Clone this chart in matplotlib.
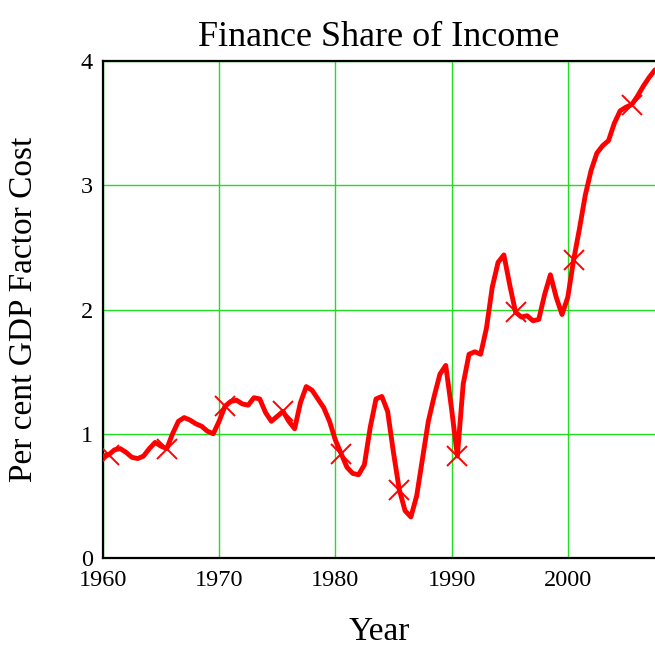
import matplotlib.pyplot as plt

# half-year readings of the curve
years = [1960.0, 1960.5, 1961.0, 1961.5, 1962.0, 1962.5, 1963.0, 1963.5,
         1964.0, 1964.5, 1965.0, 1965.5, 1966.0, 1966.5, 1967.0, 1967.5,
         1968.0, 1968.5, 1969.0, 1969.5, 1970.0, 1970.5, 1971.0, 1971.5,
         1972.0, 1972.5, 1973.0, 1973.5, 1974.0, 1974.5, 1975.0, 1975.5,
         1976.0, 1976.5, 1977.0, 1977.5, 1978.0, 1978.5, 1979.0, 1979.5,
         1980.0, 1980.5, 1981.0, 1981.5, 1982.0, 1982.5, 1983.0, 1983.5,
         1984.0, 1984.5, 1985.0, 1985.5, 1986.0, 1986.5, 1987.0, 1987.5,
         1988.0, 1988.5, 1989.0, 1989.5, 1990.0, 1990.5, 1991.0, 1991.5,
         1992.0, 1992.5, 1993.0, 1993.5, 1994.0, 1994.5, 1995.0, 1995.5,
         1996.0, 1996.5, 1997.0, 1997.5, 1998.0, 1998.5, 1999.0, 1999.5,
         2000.0, 2000.5, 2001.0, 2001.5, 2002.0, 2002.5, 2003.0, 2003.5,
         2004.0, 2004.5, 2005.0, 2005.5, 2006.0, 2006.5, 2007.0, 2007.5]
share = [0.82, 0.83, 0.87, 0.88, 0.85, 0.81, 0.80, 0.82,
         0.88, 0.93, 0.90, 0.88, 1.00, 1.10, 1.13, 1.11,
         1.08, 1.06, 1.02, 1.00, 1.10, 1.22, 1.26, 1.27,
         1.24, 1.23, 1.29, 1.28, 1.17, 1.10, 1.14, 1.18,
         1.10, 1.04, 1.25, 1.38, 1.35, 1.28, 1.21, 1.10,
         0.95, 0.84, 0.73, 0.68, 0.67, 0.75, 1.05, 1.28,
         1.30, 1.18, 0.85, 0.55, 0.38, 0.33, 0.50, 0.80,
         1.10, 1.30, 1.48, 1.55, 1.20, 0.82, 1.40, 1.64,
         1.66, 1.64, 1.85, 2.18, 2.38, 2.44, 2.20, 1.98,
         1.94, 1.95, 1.91, 1.92, 2.12, 2.28, 2.10, 1.96,
         2.10, 2.40, 2.65, 2.92, 3.12, 3.26, 3.32, 3.36,
         3.50, 3.60, 3.63, 3.65, 3.72, 3.80, 3.87, 3.93]

xticks = [1960, 1970, 1980, 1990, 2000]
yticks = [0, 1, 2, 3, 4]

plt.rcParams['font.family'] = ['Liberation Serif', 'DejaVu Serif']

fig = plt.figure(figsize=(6.55, 6.51), dpi=100)
ax = fig.add_axes([0.157, 0.143, 0.843, 0.763])

# x marks every five years (1960.5, 1965.5, ...)
ax.plot(years, share, color='red', lw=3.5, solid_joinstyle='round',
        solid_capstyle='round', marker='x', markevery=slice(1, None, 10),
        markersize=14, markeredgewidth=1.4, zorder=3)

ax.set_xlim(1960, 2007.5)
ax.set_ylim(0, 4)
ax.set_xticks(xticks)
ax.set_yticks(yticks)
ax.grid(True, color='#22dd22', lw=1)
ax.tick_params(length=0, labelsize=17.5)
ax.tick_params(axis='x', pad=9)
ax.tick_params(axis='y', pad=7)

for s in ['left', 'top', 'bottom']:
    ax.spines[s].set_linewidth(1.6)
    ax.spines[s].set_color('black')
ax.spines['right'].set_visible(False)

ax.set_title("Finance Share of Income", fontsize=26, pad=11)
ax.set_xlabel("Year", fontsize=24, labelpad=18)
ax.set_ylabel("Per cent GDP Factor Cost", fontsize=24, labelpad=30)

fig.savefig("out.png", dpi=100)
